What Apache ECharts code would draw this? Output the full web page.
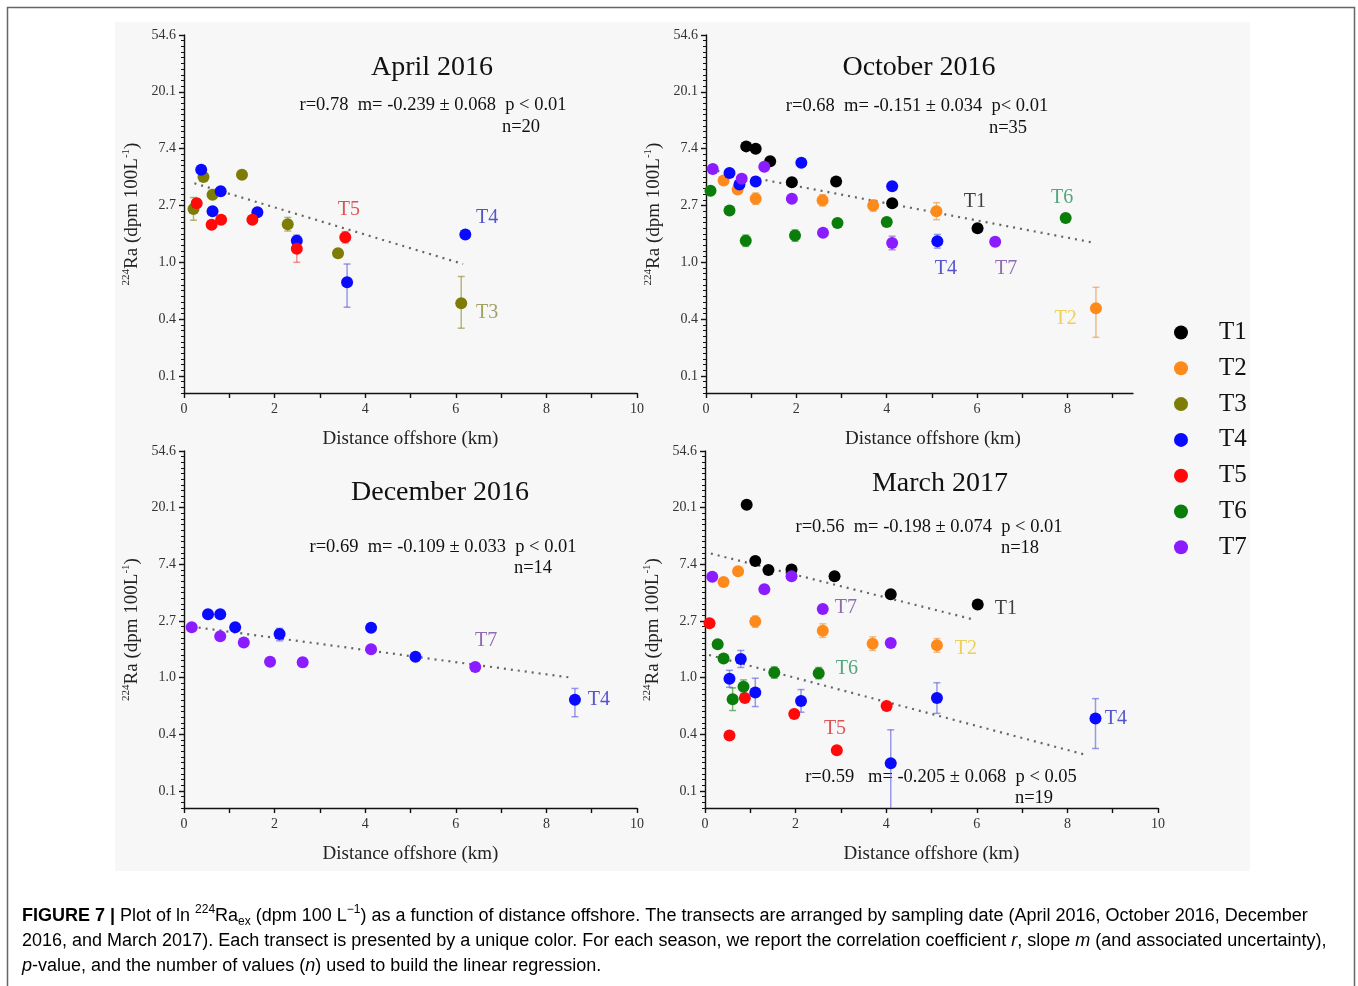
<!DOCTYPE html>
<html>
<head>
<meta charset="utf-8">
<script src="https://cdn.jsdelivr.net/npm/echarts@6/dist/echarts.min.js"></script>
<style>html,body{margin:0;padding:0;background:#fff;}#c{width:1358px;height:986px;}</style>
</head>
<body>
<div id="c"></div>
<script>
// ---------- tick labels (y axis is ln scale; labels show e^ln) ----------
const yTickLn = [-2, -1, 0, 1, 2, 3, 4];
const yTickLabels = ['0.1', '0.4', '1.0', '2.7', '7.4', '20.1', '54.6'];
const xTickLabels = [0, 2, 4, 6, 8, 10];
const xTickLabelsOct = [0, 2, 4, 6, 8];
const transects = ['T1', 'T2', 'T3', 'T4', 'T5', 'T6', 'T7'];

// ---------- data: [distance km, ln(224Ra), errDown, errUp] ----------
// April 2016
const aprT3 = [[0.43,1.50],[1.28,1.54],[0.63,1.19],[0.21,0.94,0.2,0.2],[2.29,0.67,0.12,0.12],[3.40,0.16],[6.12,-0.72,0.44,0.47]];
const aprT4 = [[0.38,1.63],[0.81,1.25],[0.63,0.90],[1.62,0.88],[2.49,0.38,0.1,0.1],[3.60,-0.35,0.44,0.32],[6.21,0.49]];
const aprT5 = [[0.28,1.04],[0.61,0.66],[0.82,0.75],[1.51,0.75],[2.49,0.24,0.24,0.2],[3.56,0.44,0.1,0.1]];
// October 2016
const octT1 = [[0.89,2.04],[1.10,2.00],[1.42,1.78],[1.90,1.41],[2.88,1.42],[4.12,1.04],[6.01,0.60]];
const octT2 = [[0.39,1.44],[0.70,1.28],[1.10,1.12,0.1,0.1],[2.58,1.09,0.1,0.1],[3.70,1.00,0.1,0.1],[5.10,0.90,0.15,0.15],[8.63,-0.81,0.51,0.37]];
const octT4 = [[0.52,1.57],[0.74,1.37],[1.10,1.42],[2.11,1.75],[4.12,1.34],[5.12,0.37,0.12,0.12]];
const octT6 = [[0.10,1.26],[0.52,0.91],[0.88,0.38,0.1,0.1],[1.97,0.47,0.1,0.1],[2.91,0.69],[4.00,0.71],[7.96,0.78]];
const octT7 = [[0.15,1.64],[0.79,1.47],[1.29,1.68],[1.90,1.12],[2.59,0.52],[4.12,0.34,0.12,0.12],[6.40,0.36]];
// December 2016
const decT4 = [[0.53,1.12],[0.80,1.12],[1.13,0.89],[2.11,0.77,0.12,0.1],[4.13,0.88],[5.11,0.37],[8.63,-0.39,0.3,0.2]];
const decT7 = [[0.17,0.89],[0.80,0.73],[1.32,0.62],[1.90,0.28],[2.62,0.27,0.08,0.08],[4.13,0.50],[6.43,0.19]];
// March 2017
const marT1 = [[0.92,3.05],[1.11,2.06],[1.40,1.90],[1.91,1.91],[2.86,1.79],[4.10,1.47],[6.02,1.29]];
const marT2 = [[0.41,1.69],[0.73,1.88],[1.11,0.99,0.1,0.1],[2.60,0.83,0.12,0.12],[3.70,0.60,0.12,0.12],[5.12,0.57,0.12,0.12]];
const marT4 = [[0.54,-0.02,0.15,0.15],[0.79,0.33,0.15,0.15],[1.11,-0.26,0.25,0.25],[2.12,-0.41,0.2,0.2],[4.10,-1.51,1.0,0.59],[5.12,-0.36,0.27,0.27],[8.62,-0.72,0.53,0.35]];
const marT5 = [[0.10,0.96],[0.54,-1.02],[0.88,-0.36],[1.97,-0.64],[2.91,-1.28],[4.01,-0.50]];
const marT6 = [[0.28,0.59],[0.41,0.34],[0.61,-0.38,0.2,0.2],[0.85,-0.16,0.12,0.12],[1.53,0.09,0.1,0.1],[2.51,0.08,0.1,0.1]];
const marT7 = [[0.16,1.78],[1.31,1.56],[1.91,1.79],[2.60,1.21],[4.10,0.61]];

// regression lines (end points)
const aprTrend = [[0.23,1.39],[6.16,-0.03]];
const octTrend = [[0.10,1.63],[8.55,0.35]];
const decTrend = [[0.17,0.90],[8.55,0.00]];
const marTrendA = [[0.13,2.19],[5.96,1.02]];
const marTrendB = [[0.09,0.40],[8.35,-1.35]];

// in-plot transect labels [x, ln, text]
const aprLabels = [[3.64,0.92,'T5'],[6.69,0.78,'T4'],[6.69,-0.88,'T3']];
const octLabels = [[5.95,1.06,'T1'],[7.88,1.13,'T6'],[5.31,-0.11,'T4'],[6.64,-0.11,'T7'],[7.96,-0.99,'T2']];
const decLabels = [[6.67,0.65,'T7'],[9.16,-0.39,'T4']];
const marLabels = [[6.64,1.22,'T1'],[3.11,1.23,'T7'],[5.76,0.51,'T2'],[3.13,0.16,'T6'],[2.87,-0.90,'T5'],[9.07,-0.72,'T4']];

// panel texts
const titles = ['April 2016', 'October 2016', 'December 2016', 'March 2017'];
const stats = [
  ['r=0.78  m= -0.239 \u00b1 0.068  p < 0.01', 'n=20'],
  ['r=0.68  m= -0.151 \u00b1 0.034  p< 0.01', 'n=35'],
  ['r=0.69  m= -0.109 \u00b1 0.033  p < 0.01', 'n=14'],
  ['r=0.56  m= -0.198 \u00b1 0.074  p < 0.01', 'n=18'],
  ['r=0.59   m= -0.205 \u00b1 0.068  p < 0.05', 'n=19']
];

// ---------- styles ----------
const SERIF = '"Liberation Serif", "Times New Roman", serif';
const SANS = '"Liberation Sans", Arial, sans-serif';
const colors = {T1:'#000000', T2:'#ff8a1c', T3:'#7d7d05', T4:'#0a0aff', T5:'#ff0a0a', T6:'#0a7d0a', T7:'#8a1cff'};
const labelColors = {T1:'#111111', T2:'#e8c630', T3:'#8c8c3a', T4:'#2b2bc0', T5:'#d42a2a', T6:'#2a9160', T7:'#74479e'};
const errColors = {T1:'rgba(0,0,0,0.45)', T2:'rgba(230,150,60,0.6)', T3:'rgba(140,140,40,0.6)', T4:'rgba(90,90,220,0.6)', T5:'rgba(230,80,80,0.6)', T6:'rgba(40,140,40,0.6)', T7:'rgba(140,80,220,0.6)'};

const grids = [
  {left:184, top:35, width:453, height:358},
  {left:706, top:35, width:427, height:358},
  {left:184, top:451, width:453, height:357},
  {left:705, top:451, width:453, height:357}
];
const xMax = [10, 9.45, 10, 10];

const panels = [
  {sets:[['T3',aprT3],['T4',aprT4],['T5',aprT5]], trends:[aprTrend], labels:aprLabels},
  {sets:[['T1',octT1],['T2',octT2],['T4',octT4],['T6',octT6],['T7',octT7]], trends:[octTrend], labels:octLabels},
  {sets:[['T4',decT4],['T7',decT7]], trends:[decTrend], labels:decLabels},
  {sets:[['T1',marT1],['T2',marT2],['T7',marT7],['T5',marT5],['T6',marT6],['T4',marT4]], trends:[marTrendA, marTrendB], labels:marLabels}
];

const minorY = [];
for (let k = -23; k <= 40; k++) { if (k % 10 !== 0) minorY.push(k / 10); }

const axisLineStyle = {color:'#111', width:1.4};
const xAxes = [], yAxes = [], series = [];

grids.forEach((g, i) => {
  const labs = i === 1 ? xTickLabelsOct : xTickLabels;
  const ticks = [];
  for (let t = 0; t <= Math.floor(xMax[i]); t++) ticks.push(t);
  xAxes.push({
    gridIndex:i, type:'value', min:0, max:xMax[i],
    axisLine:{show:true, onZero:false, lineStyle:axisLineStyle},
    axisTick:{show:true, inside:false, length:5, customValues:ticks, lineStyle:axisLineStyle},
    axisLabel:{show:true, customValues:labs, margin:9, fontFamily:SERIF, fontSize:14, color:'#333'},
    splitLine:{show:false}, minorTick:{show:false},
    name:'Distance offshore (km)', nameLocation:'middle', nameGap:37,
    nameTextStyle:{fontFamily:SERIF, fontSize:19, color:'#222', padding: i === 1 ? [0,0,0,27] : 0}
  });
  yAxes.push({
    gridIndex:i, type:'value', min:-2.3, max:4, position:'left',
    axisLine:{show:true, onZero:false, lineStyle:axisLineStyle},
    axisTick:{show:true, inside:false, length:5, customValues:yTickLn, lineStyle:axisLineStyle},
    axisLabel:{show:true, customValues:yTickLn, margin:8, fontFamily:SERIF, fontSize:14, color:'#333',
      formatter: v => yTickLabels[yTickLn.indexOf(Math.round(v))]},
    splitLine:{show:false},
    name:'{sup|224}{n|Ra (dpm 100L}{sup|-1}{n|)}', nameLocation:'middle', nameGap:41, nameRotate:90,
    nameTextStyle:{fontFamily:SERIF, fontSize:19, color:'#222', lineHeight:22,
      rich:{n:{fontFamily:SERIF, fontSize:19, color:'#222', lineHeight:22},
            sup:{fontFamily:SERIF, fontSize:11, color:'#222', lineHeight:22, verticalAlign:'top', padding:[0,0,6,0]}}}
  });
  yAxes.push({
    gridIndex:i, type:'value', min:-2.3, max:4, position:'left',
    axisLine:{show:false}, axisLabel:{show:false}, splitLine:{show:false},
    axisTick:{show:true, inside:false, length:3, customValues:minorY, lineStyle:{color:'#111', width:1}}
  });

  const p = panels[i];
  p.trends.forEach(tr => {
    series.push({
      type:'line', name:'trend', xAxisIndex:i, yAxisIndex:2*i, data:tr, symbol:'none',
      lineStyle:{color:'#666', width:2.2, type:[2,5]}, z:1, silent:true
    });
  });
  p.sets.forEach(([name, arr]) => {
    const errData = arr.filter(d => (d[2] || 0) > 0 || (d[3] || 0) > 0).map(d => [d[0], d[1], d[2] || 0, d[3] || 0]);
    if (errData.length) {
      series.push({
        type:'custom', name:'err-' + name, xAxisIndex:i, yAxisIndex:2*i, data:errData, clip:true, z:2, silent:true,
        renderItem:(params, api) => {
          const x = api.value(0), y = api.value(1);
          const top = api.coord([x, y + api.value(3)]);
          const bot = api.coord([x, y - api.value(2)]);
          const st = {stroke:errColors[name], lineWidth:1.5};
          return {type:'group', children:[
            {type:'line', shape:{x1:top[0], y1:top[1], x2:bot[0], y2:bot[1]}, style:st},
            {type:'line', shape:{x1:top[0]-3.5, y1:top[1], x2:top[0]+3.5, y2:top[1]}, style:st},
            {type:'line', shape:{x1:bot[0]-3.5, y1:bot[1], x2:bot[0]+3.5, y2:bot[1]}, style:st}
          ]};
        }
      });
    }
    series.push({
      type:'scatter', name:name, xAxisIndex:i, yAxisIndex:2*i,
      data:arr.map(d => [d[0], d[1]]), symbol:'circle', symbolSize:12,
      itemStyle:{color:colors[name], opacity:1}, z:3
    });
  });
  p.labels.forEach(l => {
    series.push({
      type:'scatter', name:'lab', xAxisIndex:i, yAxisIndex:2*i, symbolSize:0, silent:true, z:4,
      data:[{value:[l[0], l[1]], name:l[2]}],
      label:{show:true, position:'inside', formatter:'{b}', fontFamily:SERIF, fontSize:20, color:labelColors[l[2]]}
    });
  });
});

// ---------- graphic texts ----------
const titlePos = [[432,68],[919,68],[440,493],[940,484]];
const statPos = [[433,105,521,127],[917,106,1008,128],[443,547,533,568],[929,527,1020,548],[941,777,1034,798]];
const graphics = [
  {type:'rect', z:-10, silent:true, shape:{x:115, y:22, width:1135, height:849}, style:{fill:'#f7f7f7'}},
  {type:'rect', z:-9, silent:true, shape:{x:7.5, y:7.5, width:1347, height:1000}, style:{fill:'none', stroke:'#666', lineWidth:1.5}}
];
titles.forEach((t, i) => graphics.push({type:'text', x:titlePos[i][0], y:titlePos[i][1],
  style:{text:t, font:'28px ' + SERIF, fill:'#111', align:'center', verticalAlign:'middle'}}));
stats.forEach((s, i) => {
  const q = statPos[i];
  graphics.push({type:'text', x:q[0], y:q[1], style:{text:s[0], font:'18.5px ' + SERIF, fill:'#111', align:'center', verticalAlign:'middle'}});
  graphics.push({type:'text', x:q[2], y:q[3], style:{text:s[1], font:'18.5px ' + SERIF, fill:'#111', align:'center', verticalAlign:'middle'}});
});
const CAP = 18;
const capRich = {
  n:{fontFamily:SANS, fontSize:CAP, color:'#333', lineHeight:24},
  b:{fontFamily:SANS, fontSize:CAP, color:'#222', fontWeight:'bold', lineHeight:24},
  i:{fontFamily:SANS, fontSize:CAP, color:'#333', fontStyle:'italic', lineHeight:24},
  sup:{fontFamily:SANS, fontSize:12, color:'#333', lineHeight:24, verticalAlign:'top'},
  sub:{fontFamily:SANS, fontSize:12, color:'#333', lineHeight:24, verticalAlign:'bottom'}
};
const capLines = [
  '{b|FIGURE 7 |}{n| Plot of ln }{sup|224}{n|Ra}{sub|ex}{n| (dpm 100 L}{sup|\u22121}{n|) as a function of distance offshore. The transects are arranged by sampling date (April 2016, October 2016, December}',
  '{n|2016, and March 2017). Each transect is presented by a unique color. For each season, we report the correlation coefficient }{i|r}{n|, slope }{i|m}{n| (and associated uncertainty),}',
  '{i|p}{n|-value, and the number of values (}{i|n}{n|) used to build the linear regression.}'
];
capLines.forEach((t, k) => graphics.push({type:'text', x:22, y:916 + 25*k,
  style:{text:t, rich:capRich, align:'left', verticalAlign:'middle'}}));

const chart = echarts.init(document.getElementById('c'), null, {renderer:'canvas'});
chart.setOption({
  backgroundColor:'#ffffff',
  animation:false,
  grid:grids.map(g => Object.assign({containLabel:false, outerBoundsMode:'none'}, g)),
  xAxis:xAxes,
  yAxis:yAxes,
  legend:{
    data:transects, orient:'vertical', left:1169, top:315, itemWidth:66, itemHeight:14, itemGap:10.8,
    icon:'circle', selectedMode:false,
    textStyle:{fontFamily:SERIF, fontSize:25, color:'#111'}
  },
  graphic:{elements:graphics},
  series:series
});
</script>
</body>
</html>
